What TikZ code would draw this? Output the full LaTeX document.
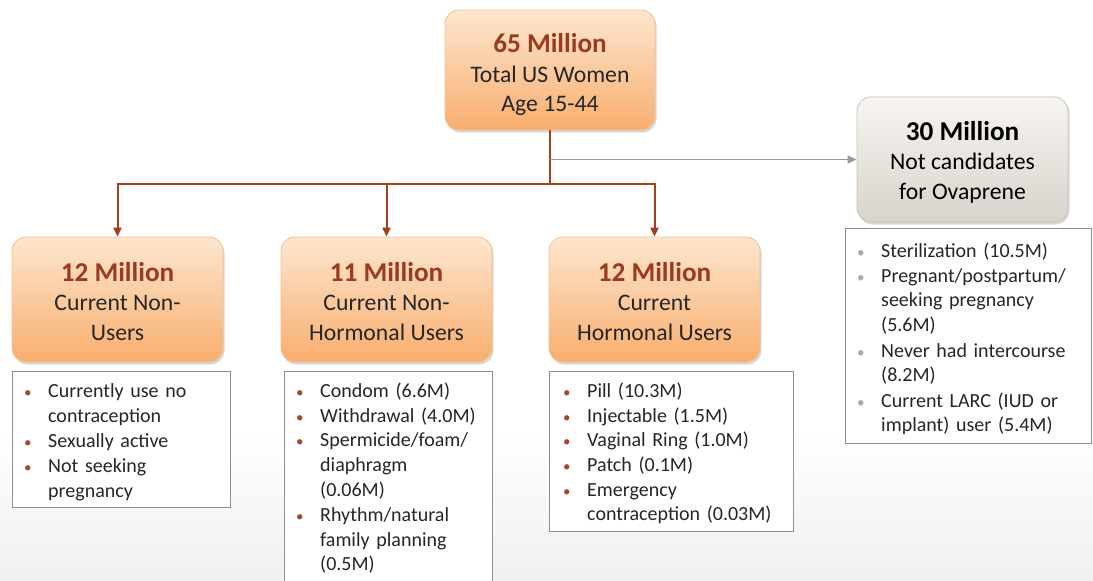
\documentclass[tikz,border=0pt]{standalone}
\usepackage{fontspec}
\setmainfont{Carlito}
\usetikzlibrary{shadows,arrows.meta}
\definecolor{otop}{HTML}{FDE6CF}
\definecolor{obot}{HTML}{F8AE6E}
\definecolor{oline}{HTML}{F5BF8C}
\definecolor{gtop}{HTML}{F7F5F2}
\definecolor{gbot}{HTML}{D8D3CB}
\definecolor{gline}{HTML}{C8C3BB}
\definecolor{titred}{HTML}{9A3A1F}
\definecolor{arr}{HTML}{A2401F}
\definecolor{garr}{HTML}{9B9B9B}
\definecolor{txt}{HTML}{262626}
\definecolor{bulred}{HTML}{A5472B}
\definecolor{bulgray}{HTML}{A8A8A8}
\definecolor{lline}{HTML}{8E8E8E}
\newlength\bind \setlength\bind{27pt}
\newcommand\itm[2][bulred]{\par\noindent\hbox to\bind{\hspace{3pt}\textcolor{#1}{\scalebox{0.75}{\textbullet}}\hss}\parbox[t]{\dimexpr\linewidth-\bind\relax}{\raggedright\strut #2\strut}}
\newcommand\ttl[2][titred]{{\fontsize{27.2}{29.5}\selectfont\bfseries\color{#1}#2}}
\tikzset{
  basebox/.style={rounded corners=14pt, line width=0.8pt, minimum width=211pt, minimum height=125pt,
    drop shadow={opacity=0.3, shadow xshift=1.5pt, shadow yshift=-2.5pt}, inner sep=0pt},
  obox/.style={basebox, draw=oline, top color=otop, bottom color=obot},
  gbox/.style={basebox, draw=gline, top color=gtop, bottom color=gbot},
  btext/.style={align=center, text=txt, font=\fontsize{23.7}{29.5}\selectfont, inner sep=0pt},
  lbox/.style={draw=lline, line width=0.8pt, fill=white, inner sep=0pt, anchor=north west},
  ltext/.style={anchor=north west, inner sep=0pt, align=left, text=txt, font=\fontsize{20}{24.6}\selectfont},
  conn/.style={draw=arr, line width=2pt},
  carrow/.style={conn, -{Triangle[length=9pt,width=8pt]}},
  garrow/.style={draw=garr, line width=1.6pt, -{Triangle[length=9pt,width=8pt]}}
}
\begin{document}
\begin{tikzpicture}[x=1pt,y=-1pt]
\useasboundingbox (0,0) rectangle (1093,581);
\fill[white] (0,0) rectangle (1093,581);
\shade[top color=white, bottom color=black!6] (0,430) rectangle (1093,581);

\node[obox, minimum width=210pt, minimum height=120pt] (top) at (550,70) {};
\node[btext] (topt) at ([yshift=-4.5pt]top.center) {\ttl{65 Million}\\Total US Women\\Age 15-44};
\node[gbox] (gb) at (962.5,159.5) {};
\node[btext, text=black] (gbt) at ([yshift=-2.5pt]gb.center) {\ttl[black]{30 Million}\\Not candidates\\for Ovaprene};
\node[obox] (b1) at (117.5,299.5) {};
\node[btext] (b1t) at ([yshift=-2pt]b1.center) {\ttl{12 Million}\\Current Non-\\Users};
\node[obox] (b2) at (386.5,299.5) {};
\node[btext] (b2t) at ([yshift=-2pt]b2.center) {\ttl{11 Million}\\Current Non-\\Hormonal Users};
\node[obox] (b3) at (654.5,299.5) {};
\node[btext] (b3t) at ([yshift=-2pt]b3.center) {\ttl{12 Million}\\Current\\Hormonal Users};

\coordinate (j) at (550,184);
\coordinate (g) at (550,159.5);
\draw[conn] (top.south) -- (j);
\draw[carrow] (j) -| (b1.north);
\draw[carrow] (j) -| (b2.north);
\draw[carrow] (j) -| (b3.north);
\draw[garrow] (g) -- (gb.west);

\node[lbox, minimum width=218pt, minimum height=136pt] (l1) at (12,371) {};
\node[ltext, text width=205pt] (t1) at (21,372.8)
  {\itm{Currently use no\newline contraception}\itm{Sexually active}\itm{Not seeking\newline pregnancy}};

\node[lbox, minimum width=208pt, minimum height=220pt] (l2) at (284,371) {};
\node[ltext, text width=195pt] (t2) at (293,372.8)
  {\itm{Condom (6.6M)}\itm{Withdrawal (4.0M)}\itm{Spermicide/foam/\newline diaphragm\newline (0.06M)}\itm{Rhythm/natural\newline family planning\newline (0.5M)}};

\node[lbox, minimum width=244pt, minimum height=160pt] (l3) at (549,371) {};
\node[ltext, text width=235pt] (t3) at (560,372.8)
  {\itm{Pill (10.3M)}\itm{Injectable (1.5M)}\itm{Vaginal Ring (1.0M)}\itm{Patch (0.1M)}\itm{Emergency\newline contraception (0.03M)}};

\node[lbox, minimum width=246pt, minimum height=215pt] (l4) at (845,228) {};
\node[ltext, text width=235pt] (t4) at (854,232.8)
  {\itm[bulgray]{Sterilization (10.5M)}\itm[bulgray]{Pregnant/postpartum/\newline seeking pregnancy\newline (5.6M)}\itm[bulgray]{Never had intercourse\newline (8.2M)}\itm[bulgray]{Current LARC (IUD or\newline implant) user (5.4M)}};
\end{tikzpicture}
\end{document}
